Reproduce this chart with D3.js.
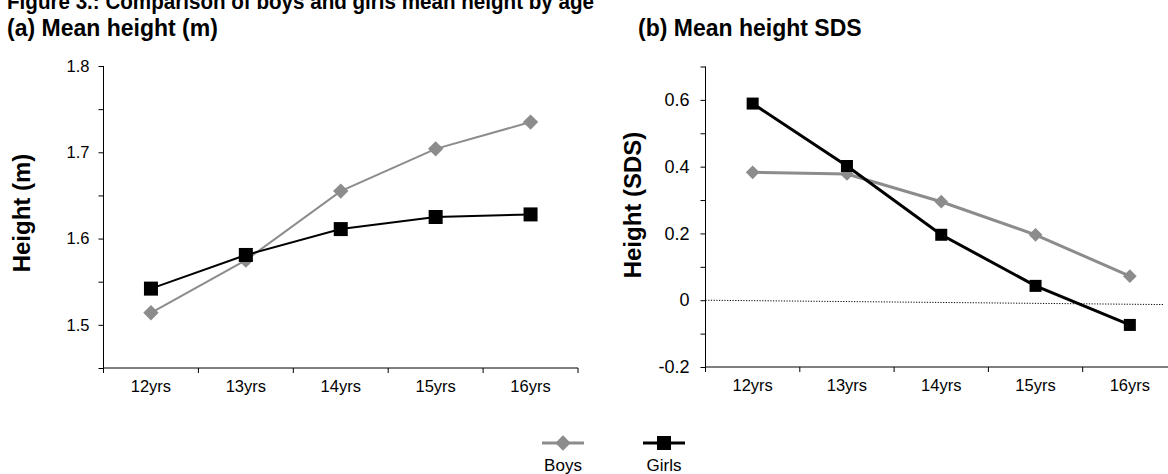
<!DOCTYPE html>
<html>
<head>
<meta charset="utf-8">
<script src="https://cdn.jsdelivr.net/npm/d3@7"></script>
<style>
  html, body { margin: 0; padding: 0; background: #fff; }
  svg { display: block; font-family: "Liberation Sans", Arial, sans-serif; }
</style>
</head>
<body>
<svg id="chart" width="1168" height="474"></svg>
<script>
// Age groups on the x axis
const ages = ["12yrs", "13yrs", "14yrs", "15yrs", "16yrs"];

// Panel (a): mean height in metres
const boysHeight  = [1.514, 1.575, 1.655, 1.704, 1.735];
const girlsHeight = [1.542, 1.581, 1.611, 1.625, 1.628];

// Panel (b): mean height standard deviation score
const boysSDS  = [0.383, 0.378, 0.295, 0.196, 0.072];
const girlsSDS = [0.589, 0.402, 0.196, 0.043, -0.074];

// Axis ticks (minor ticks every step, labels on a subset)
const heightTicks  = [1.45, 1.5, 1.55, 1.6, 1.65, 1.7, 1.75, 1.8];
const heightLabels = [1.5, 1.6, 1.7, 1.8];
const sdsTicks  = [-0.2, -0.1, 0, 0.1, 0.2, 0.3, 0.4, 0.5, 0.6, 0.7];
const sdsLabels = [-0.2, 0, 0.2, 0.4, 0.6];

// Zero reference line in panel (b), values at its left and right ends
const zeroLine = [0, -0.013];

const seriesNames = ["Boys", "Girls"];
const BOYS_COLOR = "#8c8c8c";
const GIRLS_COLOR = "#000000";

const svg = d3.select("#chart");

// Title block
svg.append("text")
  .attr("x", 7).attr("y", 9)
  .attr("font-size", 22).attr("font-weight", "bold")
  .attr("textLength", 587).attr("lengthAdjust", "spacingAndGlyphs")
  .text("Figure 3.: Comparison of boys and girls mean height by age");
svg.append("text")
  .attr("x", 7).attr("y", 36)
  .attr("font-size", 23).attr("font-weight", "bold")
  .text("(a) Mean height (m)");
svg.append("text")
  .attr("x", 638).attr("y", 36)
  .attr("font-size", 23).attr("font-weight", "bold")
  .text("(b) Mean height SDS");

const diamond = d3.symbol().type(d3.symbolDiamond2);

function drawPanel(opts) {
  const g = svg.append("g");
  const x = d3.scaleBand().domain(ages).range(opts.xRange).padding(0);
  const y = d3.scaleLinear().domain(opts.yDomain).range(opts.yRange);

  // y axis
  const yAxis = d3.axisLeft(y)
    .tickValues(opts.yTicks)
    .tickSize(5)
    .tickFormat(d => opts.yLabels.some(v => Math.abs(v - d) < 1e-9) ? opts.fmt(d) : "");
  const ya = g.append("g")
    .attr("transform", `translate(${opts.xRange[0]},0)`)
    .call(yAxis);
  ya.select(".domain").attr("d", `M0,${opts.yRange[0]}V${opts.yRange[1]}`);
  ya.selectAll("text")
    .attr("font-size", opts.yFont)
    .attr("font-family", "Liberation Sans, Arial, sans-serif")
    .attr("x", -opts.labelGap).attr("fill", "#000");
  ya.selectAll("line, path").attr("stroke", "#000");

  // x axis with ticks on category boundaries
  const xa = g.append("g")
    .attr("transform", `translate(0,${opts.yRange[0]})`);
  xa.append("line")
    .attr("x1", opts.xRange[0]).attr("x2", opts.xRange[1])
    .attr("stroke", "#000");
  const bounds = ages.map(a => x(a)).concat([x(ages[ages.length - 1]) + x.bandwidth()]);
  xa.selectAll("line.tick").data(bounds).join("line")
    .attr("class", "tick")
    .attr("x1", d => d).attr("x2", d => d)
    .attr("y1", 0).attr("y2", 5)
    .attr("stroke", "#000");
  xa.selectAll("text").data(ages).join("text")
    .attr("x", d => x(d) + x.bandwidth() / 2)
    .attr("y", 24)
    .attr("text-anchor", "middle")
    .attr("font-size", 16.5)
    .text(d => d);

  // y axis title
  g.append("text")
    .attr("transform", `translate(${opts.titleX},${opts.titleY}) rotate(-90)`)
    .attr("text-anchor", "middle")
    .attr("font-size", 24).attr("font-weight", "bold")
    .text(opts.yTitle);

  if (opts.zero) {
    g.append("line")
      .attr("x1", opts.xRange[0]).attr("x2", opts.zeroEnd)
      .attr("y1", y(opts.zero[0])).attr("y2", y(opts.zero[1]))
      .attr("stroke", "#000").attr("stroke-width", 1)
      .attr("stroke-dasharray", "1.2,1.5");
  }

  const line = d3.line()
    .x((d, i) => x(ages[i]) + x.bandwidth() / 2)
    .y(d => y(d));

  // Boys: grey line with diamonds
  g.append("path").datum(opts.boys)
    .attr("fill", "none").attr("stroke", BOYS_COLOR)
    .attr("stroke-width", opts.lw).attr("d", line);
  g.selectAll("path.boys").data(opts.boys).join("path")
    .attr("class", "boys")
    .attr("transform", (d, i) => `translate(${x(ages[i]) + x.bandwidth() / 2},${y(d)})`)
    .attr("d", diamond.size(opts.diamondSize)())
    .attr("fill", BOYS_COLOR);

  // Girls: black line with squares
  g.append("path").datum(opts.girls)
    .attr("fill", "none").attr("stroke", GIRLS_COLOR)
    .attr("stroke-width", opts.lw).attr("d", line);
  g.selectAll("rect.girls").data(opts.girls).join("rect")
    .attr("class", "girls")
    .attr("x", (d, i) => x(ages[i]) + x.bandwidth() / 2 - opts.sq / 2)
    .attr("y", d => y(d) - opts.sq / 2)
    .attr("width", opts.sq).attr("height", opts.sq)
    .attr("fill", GIRLS_COLOR);
}

drawPanel({
  xRange: [103.5, 578], yRange: [368, 66],
  yDomain: [1.45, 1.8], yTicks: heightTicks, yLabels: heightLabels,
  fmt: d3.format(".1f"), yFont: 16.5, labelGap: 14,
  boys: boysHeight, girls: girlsHeight,
  yTitle: "Height (m)", titleX: 30, titleY: 213,
  lw: 2, sq: 14, diamondSize: 150
});

drawPanel({
  xRange: [705.5, 1177], yRange: [367, 66.5],
  yDomain: [-0.2, 0.7], yTicks: sdsTicks, yLabels: sdsLabels,
  fmt: d => d === 0 ? "0" : d.toFixed(1),
  yFont: 18, labelGap: 16,
  boys: boysSDS, girls: girlsSDS,
  yTitle: "Height (SDS)", titleX: 641, titleY: 205,
  lw: 3, sq: 12, diamondSize: 120,
  zero: zeroLine, zeroEnd: 1164
});

// Legend
const legend = svg.append("g").attr("transform", "translate(0,443)");
const legendItems = [
  { name: seriesNames[0], color: BOYS_COLOR, cx: 563, kind: "diamond" },
  { name: seriesNames[1], color: GIRLS_COLOR, cx: 664, kind: "square" }
];
legendItems.forEach(it => {
  legend.append("line")
    .attr("x1", it.cx - 21).attr("x2", it.cx + 21)
    .attr("stroke", it.color).attr("stroke-width", 3);
  if (it.kind === "diamond") {
    legend.append("path")
      .attr("transform", `translate(${it.cx},0)`)
      .attr("d", diamond.size(150)())
      .attr("fill", it.color);
  } else {
    legend.append("rect")
      .attr("x", it.cx - 7).attr("y", -7)
      .attr("width", 14).attr("height", 14)
      .attr("fill", it.color);
  }
  legend.append("text")
    .attr("x", it.cx).attr("y", 28)
    .attr("text-anchor", "middle")
    .attr("font-size", 17)
    .text(it.name);
});
</script>
</body>
</html>
